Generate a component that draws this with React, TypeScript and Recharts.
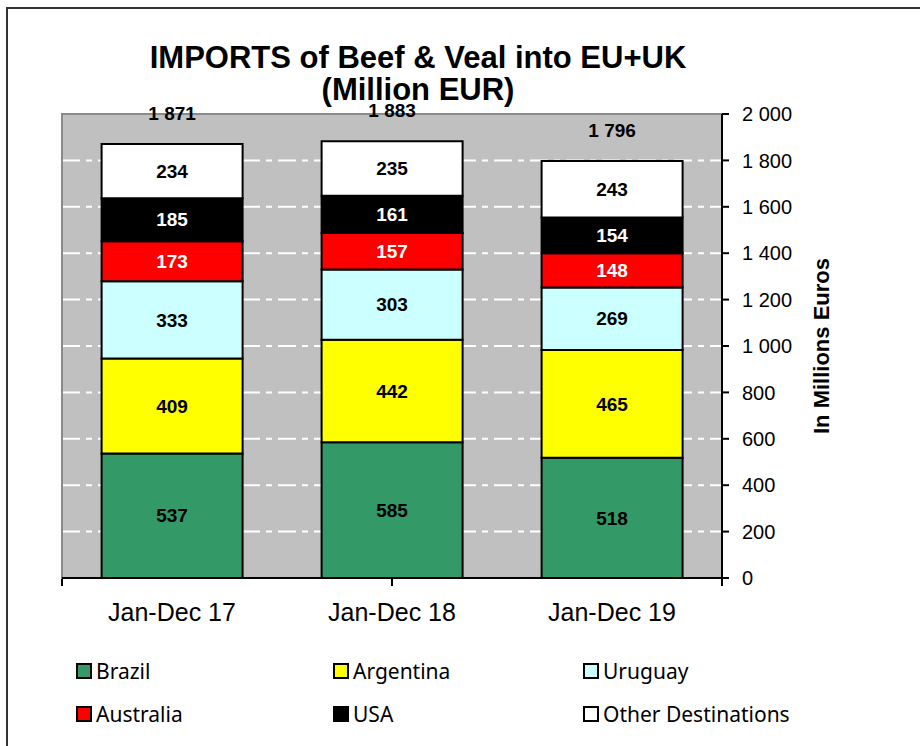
import {
  Bar,
  BarChart,
  CartesianGrid,
  LabelList,
  ReferenceArea,
  XAxis,
  YAxis,
} from "recharts";

const FONT = "'Liberation Sans', Arial, sans-serif";

const periods = ["Jan-Dec 17", "Jan-Dec 18", "Jan-Dec 19"];
const brazil = [537, 585, 518];
const argentina = [409, 442, 465];
const uruguay = [333, 303, 269];
const australia = [173, 157, 148];
const usa = [185, 161, 154];
const other = [234, 235, 243];
const totals = [1871, 1883, 1796];
const yTicks = [0, 200, 400, 600, 800, 1000, 1200, 1400, 1600, 1800, 2000];

const series = [
  { key: "brazil", name: "Brazil", values: brazil, color: "#339966", text: "#000" },
  { key: "argentina", name: "Argentina", values: argentina, color: "#ffff00", text: "#000" },
  { key: "uruguay", name: "Uruguay", values: uruguay, color: "#ccffff", text: "#000" },
  { key: "australia", name: "Australia", values: australia, color: "#ff0000", text: "#fff" },
  { key: "usa", name: "USA", values: usa, color: "#000000", text: "#fff" },
  { key: "other", name: "Other Destinations", values: other, color: "#ffffff", text: "#000" },
];

const rows = periods.map((period, i) => {
  const row: Record<string, string | number> = { period, total: totals[i] };
  series.forEach((s) => (row[s.key] = s.values[i]));
  return row;
});

const fmt = (v: number) => String(v).replace(/\B(?=(\d{3})+(?!\d))/g, " ");

const legendCols = [76, 333, 583];
const legendRows = [671, 714];

function PeriodTick({ x, y, payload }: any) {
  return (
    <text
      x={x}
      y={y + 35}
      textAnchor="middle"
      fontFamily={FONT}
      fontSize={25}
      fill="#000"
    >
      {payload.value}
    </text>
  );
}

export default function App() {
  return (
    <div
      style={{
        position: "absolute",
        left: 0,
        top: 0,
        width: 920,
        height: 746,
        overflow: "hidden",
        background: "#fff",
        fontFamily: FONT,
      }}
    >
      <div
        style={{
          position: "absolute",
          left: 6,
          top: 7,
          width: 1000,
          height: 1000,
          borderLeft: "2px solid #333",
          borderTop: "2px solid #333",
        }}
      />
      <BarChart
        width={920}
        height={746}
        data={rows}
        margin={{ top: 114, right: 0, left: 62, bottom: 117 }}
        barCategoryGap="18%"
      >
        <CartesianGrid
          xAxisId="cat"
          vertical={false}
          horizontalValues={yTicks.slice(1, -1)}
          fill="#c0c0c0"
          fillOpacity={1}
          stroke="#ffffff"
          strokeWidth={2}
          strokeDasharray="18 6 6 6"
        />
        <ReferenceArea
          xAxisId="cat"
          y1={0}
          y2={2000}
          fill="none"
          stroke="#8a8a8a"
          strokeWidth={2}
        />
        <XAxis
          xAxisId="cat"
          dataKey="period"
          height={1}
          axisLine={{ stroke: "#000", strokeWidth: 2 }}
          tickLine={false}
          tick={<PeriodTick />}
          interval={0}
        />
        <XAxis
          xAxisId="edge"
          type="number"
          domain={[0, 3]}
          ticks={[0, 1, 2, 3]}
          allowDataOverflow
          height={50}
          axisLine={false}
          tickLine={{ stroke: "#000", strokeWidth: 2 }}
          tickSize={7}
          tickFormatter={() => ""}
        />
        <YAxis
          orientation="right"
          width={198}
          domain={[0, 2000]}
          ticks={yTicks}
          tickFormatter={fmt}
          axisLine={{ stroke: "#000", strokeWidth: 2 }}
          tickLine={{ stroke: "#000", strokeWidth: 2 }}
          tickSize={7}
          tickMargin={13}
          tick={{ fill: "#000", fontSize: 20, fontFamily: FONT }}
          label={{
            value: "In Millions Euros",
            angle: -90,
            position: "center",
            fill: "#000",
            fontSize: 22,
            fontWeight: "bold",
            fontFamily: FONT,
          }}
        />
        {series.map((s) => (
          <Bar
            key={s.key}
            xAxisId="cat"
            dataKey={s.key}
            stackId="a"
            fill={s.color}
            stroke="#000"
            strokeWidth={2}
            isAnimationActive={false}
          >
            <LabelList
              dataKey={s.key}
              position="center"
              fill={s.text}
              fontSize={19}
              fontWeight="bold"
              fontFamily={FONT}
            />
            {s.key === "other" && (
              <LabelList
                dataKey="total"
                position="top"
                offset={24}
                formatter={(v: any) => fmt(Number(v))}
                fill="#000"
                fontSize={19}
                fontWeight="bold"
                fontFamily={FONT}
              />
            )}
          </Bar>
        ))}
      </BarChart>
      <svg
        width={920}
        height={110}
        style={{ position: "absolute", left: 0, top: 0, pointerEvents: "none" }}
      >
        <text
          x={418}
          y={68}
          textAnchor="middle"
          fontFamily={FONT}
          fontSize={31}
          fontWeight="bold"
          fill="#000"
        >
          IMPORTS of Beef &amp; Veal into EU+UK
        </text>
        <text
          x={418}
          y={100}
          textAnchor="middle"
          fontFamily={FONT}
          fontSize={31}
          fontWeight="bold"
          fill="#000"
        >
          (Million EUR)
        </text>
      </svg>
      {series.map((s, i) => (
        <div
          key={s.key}
          style={{
            position: "absolute",
            left: legendCols[i % 3],
            top: legendRows[Math.floor(i / 3)] - 14,
            height: 28,
            display: "flex",
            alignItems: "center",
            fontFamily: "'Noto Sans', sans-serif",
            fontSize: 21,
            color: "#000",
            whiteSpace: "nowrap",
          }}
        >
          <span
            style={{
              display: "inline-block",
              width: 12,
              height: 12,
              background: s.color,
              border: "2px solid #000",
              marginRight: 4,
            }}
          />
          {s.name}
        </div>
      ))}
    </div>
  );
}
